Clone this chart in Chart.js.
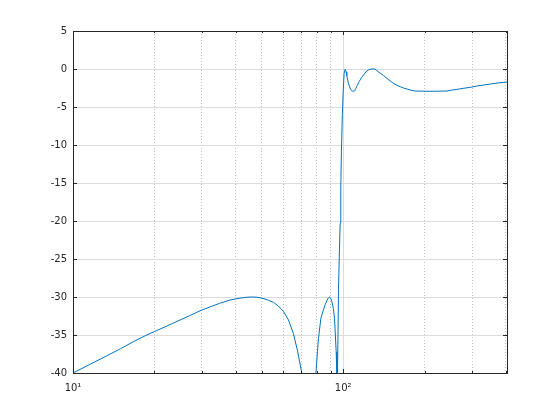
<!DOCTYPE html>
<html><head><meta charset="utf-8">
<script src="https://cdn.jsdelivr.net/npm/chart.js@4/dist/chart.umd.min.js"></script>
<style>html,body{margin:0;padding:0;background:#fff}#wrap{width:560px;height:420px}</style>
</head><body><div id="wrap"><canvas id="c" width="560" height="420"></canvas></div>
<script>
// Frequency (Hz, log axis) and magnitude (dB)
const freqHz = [
  10, 11.5, 13.3, 15, 16.7, 18.5, 20, 23.4, 27, 30, 34.9, 38.1, 41.5, 44, 46, 48, 50, 52.5, 55.2, 57.6, 60.1, 62.7, 65.4, 67.7, 70.3, 75,
  79.3, 80.3, 81.0, 82.7, 84.5, 85.8, 87.2, 88.2, 89.0, 89.9, 90.8, 92.0, 92.9, 94.2, 94.8, 95.05,
  95.3, 96.1, 96.8, 97.5, 98.0, 98.5, 99.3, 100.0, 100.8, 101.7, 102.5, 103.1, 104.0, 104.6, 105.6, 106.6, 108.2, 110.3,
  111.4, 112.6, 114.5, 116.9, 118.9, 121.6, 124.0, 127, 131.2, 133.3, 137.1, 141.1, 145.2, 149.4, 153.6, 158.1, 162.6,
  167.3, 172.2, 177.1, 184.8, 210, 242.2, 249.1, 263.7, 279.0, 295.4, 312.7, 330.8, 350.3, 370.9, 392.4, 404
];
const gainDb = [
  -40, -38.9, -37.76, -36.8, -35.9, -35.1, -34.56, -33.47, -32.46, -31.71, -30.83, -30.4, -30.15, -30.03, -30.0, -30.03, -30.15, -30.38, -30.7, -31.2, -31.9, -33.0, -34.8, -37.0, -40, -80,
  -40, -37.2, -35.5, -32.8, -31.7, -31.0, -30.4, -30.1, -30.0, -30.15, -30.6, -31.5, -32.8, -37.2, -40, -80,
  -40, -29, -24.2, -20.3, -15.5, -10.9, -6, -3, -0.6, -0.04, -0.36, -0.88, -1.45, -1.88, -2.33, -2.7, -2.92, -2.88,
  -2.54, -2.2, -1.67, -1.14, -0.79, -0.35, -0.13, 0, 0, -0.22, -0.55, -0.85, -1.24, -1.58, -1.89, -2.15, -2.33,
  -2.5, -2.63, -2.76, -2.9, -2.93, -2.9, -2.81, -2.68, -2.54, -2.41, -2.24, -2.11, -1.98, -1.85, -1.76, -1.71
];
const xTickValues = [10, 20, 30, 40, 50, 60, 70, 80, 90, 100, 200, 300, 400];
const xMajorTicks = [10, 100];
const xTickLabels = {10: '10\u00B9', 100: '10\u00B2'};
const yTickValues = [5, 0, -5, -10, -15, -20, -25, -30, -35, -40];
const X_MIN = 10, X_MAX = 404, Y_MIN = -40, Y_MAX = 5;

const AXIS_COLOR = '#262626';
const points = freqHz.map((f, i) => ({x: f, y: gainDb[i]}));

const framePlugin = {
  id: 'frame',
  afterDraw(chart) {
    const {ctx, chartArea: a, scales} = chart;
    ctx.save();
    ctx.strokeStyle = AXIS_COLOR;
    ctx.lineWidth = 1;
    ctx.beginPath();
    xTickValues.forEach(v => {
      if (v < X_MIN || v > X_MAX) return;
      const px = Math.round(scales.x.getPixelForValue(v)) + 0.5;
      const len = xMajorTicks.includes(v) ? 4 : 2;
      ctx.moveTo(px, a.bottom); ctx.lineTo(px, a.bottom - len);
      ctx.moveTo(px, a.top); ctx.lineTo(px, a.top + len);
    });
    yTickValues.forEach(v => {
      const py = Math.round(scales.y.getPixelForValue(v)) + 0.5;
      ctx.moveTo(a.left, py); ctx.lineTo(a.left + 4, py);
      ctx.moveTo(a.right, py); ctx.lineTo(a.right - 4, py);
    });
    ctx.stroke();
    ctx.strokeRect(Math.round(a.left) + 0.5, Math.round(a.top) + 0.5,
                   Math.round(a.right - a.left), Math.round(a.bottom - a.top));
    ctx.restore();
  }
};

new Chart(document.getElementById('c'), {
  type: 'line',
  data: {
    datasets: [{
      data: points,
      borderColor: '#0072BD',
      borderWidth: 1,
      pointRadius: 0,
      fill: false,
      tension: 0
    }]
  },
  options: {
    responsive: false,
    devicePixelRatio: 1,
    animation: false,
    layout: {padding: {left: 0, right: 53, top: 31, bottom: 0}},
    plugins: {legend: {display: false}, tooltip: {enabled: false}},
    scales: {
      x: {
        type: 'logarithmic',
        min: X_MIN, max: X_MAX,
        afterFit(s) { s.height = 47; },
        afterBuildTicks(s) {
          s.ticks = xTickValues.filter(v => v >= X_MIN && v <= X_MAX)
            .map(v => ({value: v, major: xMajorTicks.includes(v)}));
        },
        grid: {
          drawTicks: false,
          color: c => (c.tick && xMajorTicks.includes(c.tick.value)) ? '#dcdcdc' : '#c4c4c4',
          lineWidth: 1
        },
        border: {
          display: false,
          dash: c => (c.tick && xMajorTicks.includes(c.tick.value)) ? [] : [1, 2]
        },
        ticks: {
          autoSkip: false, maxRotation: 0, padding: 9,
          color: AXIS_COLOR,
          font: {family: 'DejaVu Sans', size: 10},
          callback: v => xTickLabels[v] || ''
        }
      },
      y: {
        type: 'linear',
        min: Y_MIN, max: Y_MAX,
        afterFit(s) { s.width = 73; },
        afterBuildTicks(s) { s.ticks = yTickValues.map(v => ({value: v})); },
        grid: {drawTicks: false, color: '#dcdcdc', lineWidth: 1},
        border: {display: false},
        ticks: {
          padding: 6,
          color: AXIS_COLOR,
          font: {family: 'DejaVu Sans', size: 10},
          callback: v => String(v)
        }
      }
    }
  },
  plugins: [framePlugin]
});
</script>
</body></html>
